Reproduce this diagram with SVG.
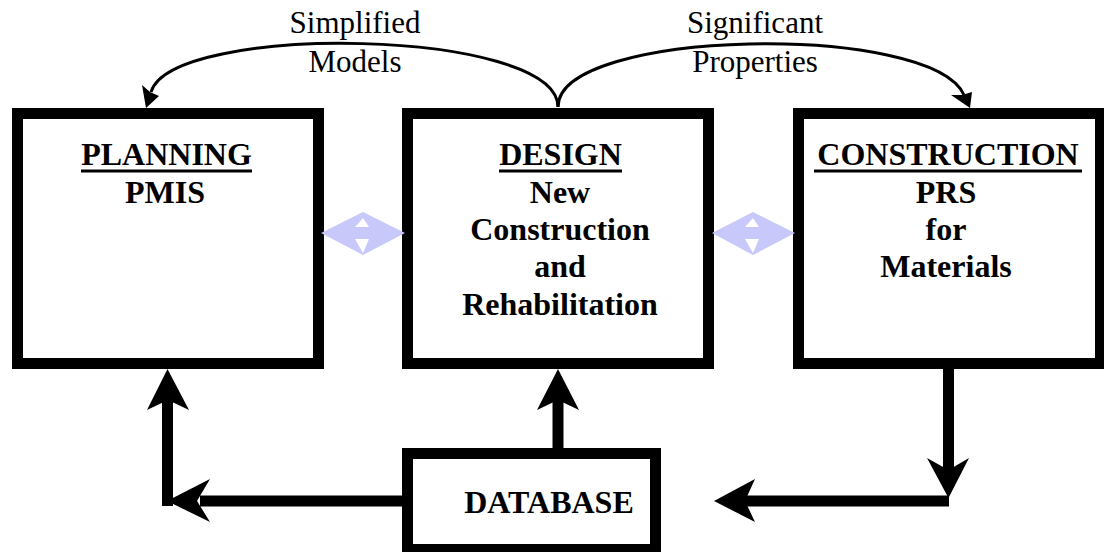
<svg xmlns="http://www.w3.org/2000/svg" width="1104" height="552" viewBox="0 0 1104 552">
<style>
.box{fill:#fff;stroke:#000;stroke-width:11}
.t{font-family:"Liberation Serif","Times New Roman",serif;font-size:32px;font-weight:bold;text-anchor:middle;fill:#000}
.lbl{font-family:"Liberation Serif","Times New Roman",serif;font-size:31px;text-anchor:middle;fill:#000}
.thick{fill:none;stroke:#000;stroke-width:11}
.thin{fill:none;stroke:#000;stroke-width:3}
.ul{stroke:#000;stroke-width:3}
.dbl{fill:#c8c8fa}
</style>
<rect width="1104" height="552" fill="#fff"/>
<g id="planning">
<rect class="box" x="17.5" y="113.5" width="301" height="250"/>
<text class="t" x="166.5" y="165">PLANNING</text>
<line class="ul" x1="81" y1="171" x2="252" y2="171"/>
<text class="t" x="165" y="203">PMIS</text>
</g>
<g id="design">
<rect class="box" x="407.5" y="113.5" width="301" height="250"/>
<text class="t" x="560.5" y="165">DESIGN</text>
<line class="ul" x1="499" y1="171" x2="622" y2="171"/>
<text class="t" x="560" y="203">New</text>
<text class="t" x="560" y="240">Construction</text>
<text class="t" x="560" y="277">and</text>
<text class="t" x="560" y="315">Rehabilitation</text>
</g>
<g id="construction">
<rect class="box" x="798.5" y="113.5" width="302" height="250"/>
<text class="t" x="948" y="165">CONSTRUCTION</text>
<line class="ul" x1="814" y1="171" x2="1082" y2="171"/>
<text class="t" x="946" y="203">PRS</text>
<text class="t" x="946" y="240">for</text>
<text class="t" x="946" y="277">Materials</text>
</g>
<g id="database">
<rect class="box" x="407.5" y="453.5" width="248" height="96"/>
<text class="t" x="549" y="513">DATABASE</text>
</g>
<g id="connectors">
<path class="thin" d="M558,107 C558,28 172,22 151,92"/>
<polygon points="146,108 142,85 150,92 159,96"/>
<path class="thin" d="M558,107 C558,28 932,22 964,95"/>
<polygon points="970,108 951,95 962,95 972,92"/>
<text class="lbl" x="355" y="33">Simplified</text>
<text class="lbl" x="355" y="72">Models</text>
<text class="lbl" x="755" y="33">Significant</text>
<text class="lbl" x="755" y="72">Properties</text>
<path class="thick" d="M402,501 H200"/>
<path class="thick" d="M167.5,501 V398" stroke-linecap="butt"/>
<rect x="162" y="496" width="11" height="10"/>
<polygon points="167.5,369 189,410 168,400 147,410"/>
<polygon points="167,501 210,479 197,501 210,522"/>
<path class="thick" d="M558,448 V398"/>
<polygon points="558,369 579,410 558,400 537,410"/>
<path class="thick" d="M948.5,369 V472"/>
<polygon points="948.5,498 927,458 948.5,470 969,458"/>
<path class="thick" d="M949,501 H742"/>
<polygon points="714,501 755,479 745,501 755,522"/>
</g>
<g id="link1">
<polygon class="dbl" points="321,233 363,212 405,233 363,255"/>
<polygon fill="#fff" points="355,227 363,218 369,227"/>
<polygon fill="#fff" points="355,239 369,239 363,253"/>
</g>
<g id="link2">
<polygon class="dbl" points="712,233 753,212 795,233 753,255"/>
<polygon fill="#fff" points="745,227 753,218 759,227"/>
<polygon fill="#fff" points="745,239 759,239 753,253"/>
</g>
</svg>
